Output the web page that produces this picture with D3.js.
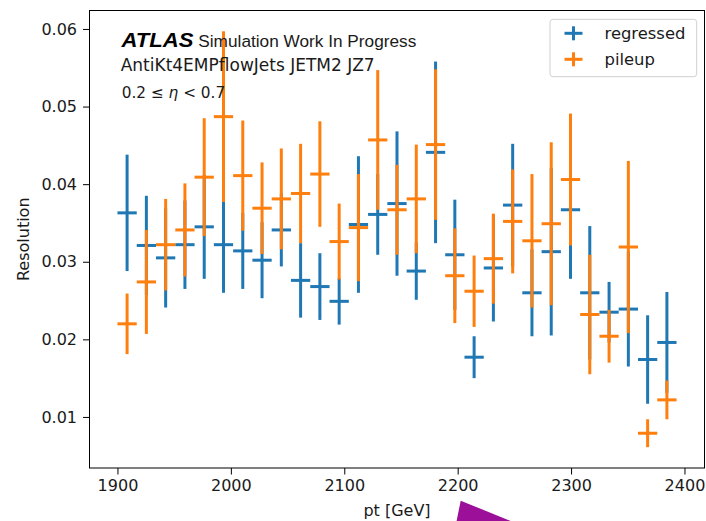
<!DOCTYPE html>
<html>
<head>
<meta charset="utf-8">
<script src="https://cdn.jsdelivr.net/npm/d3@7"></script>
<style>
  body { margin: 0; background: #fff; }
  svg { display: block; }
</style>
</head>
<body>
<svg id="chart" width="706" height="521"></svg>
<script>
// Bin centres (pt, GeV) and half bin width
const ptCenters = [1908.5, 1925.5, 1942.5, 1959.5, 1976.5, 1993.5, 2010.5, 2027.5, 2044.5, 2061.5,
  2078.5, 2095.5, 2112.5, 2129.5, 2146.5, 2163.5, 2180.5, 2197.5, 2214.5, 2231.5,
  2248.5, 2265.5, 2282.5, 2299.5, 2316.5, 2333.5, 2350.5, 2367.5, 2384.5];
const binHalfWidth = 8.5;

// Resolution values
const regressed = [0.0363, 0.0321, 0.0305, 0.0322, 0.0345, 0.0322, 0.0314, 0.0302, 0.0341, 0.0276,
  0.0268, 0.0249, 0.0348, 0.0361, 0.0375, 0.0288, 0.0441, 0.0309, 0.0177, 0.0292,
  0.0373, 0.0260, 0.0313, 0.0367, 0.0260, 0.0235, 0.0239, 0.0174, 0.0196];
const regressedErr = [0.0075, 0.0064, 0.0064, 0.0057, 0.0067, 0.0062, 0.0049, 0.0049, 0.0047, 0.0048,
  0.0043, 0.0030, 0.0088, 0.0052, 0.0093, 0.0037, 0.0117, 0.0071, 0.0027, 0.0069,
  0.0079, 0.0056, 0.0108, 0.0089, 0.0086, 0.0039, 0.0074, 0.0057, 0.0065];
const pileup = [0.0220, 0.0274, 0.0322, 0.0341, 0.0409, 0.0487, 0.0411, 0.0369, 0.0381, 0.0388,
  0.0413, 0.0326, 0.0344, 0.0457, 0.0367, 0.0381, 0.0451, 0.0282, 0.0262, 0.0304,
  0.0352, 0.0327, 0.0349, 0.0406, 0.0232, 0.0204, 0.0319, 0.0079, 0.0122];
const pileupErr = [0.0039, 0.0067, 0.0059, 0.0060, 0.0076, 0.0110, 0.0071, 0.0059, 0.0065, 0.0064,
  0.0068, 0.0049, 0.0069, 0.0090, 0.0058, 0.0070, 0.0097, 0.0061, 0.0046, 0.0058,
  0.0067, 0.0086, 0.0105, 0.0085, 0.0077, 0.0034, 0.0111, 0.0018, 0.0025];

const seriesNames = ["regressed", "pileup"];
const seriesColors = ["#1f77b4", "#ff7f0e"];
const xTicks = [1900, 2000, 2100, 2200, 2300, 2400];
const yTicks = [0.01, 0.02, 0.03, 0.04, 0.05, 0.06];

// Plot area
const plotLeft = 89.5, plotRight = 704.5, plotTop = 10.5, plotBottom = 468;

const series = [
  { name: seriesNames[0], color: seriesColors[0], values: regressed, errs: regressedErr },
  { name: seriesNames[1], color: seriesColors[1], values: pileup, errs: pileupErr },
];

// Domains with 5% margin like matplotlib
const xLo = d3.min(ptCenters) - binHalfWidth;
const xHi = d3.max(ptCenters) + binHalfWidth;
const xPad = (xHi - xLo) * 0.05;
const yLo = d3.min(series, (s) => d3.min(s.values, (v, i) => v - s.errs[i]));
const yHi = d3.max(series, (s) => d3.max(s.values, (v, i) => v + s.errs[i]));
const yPad = (yHi - yLo) * 0.05;

const xScale = d3.scaleLinear().domain([xLo - xPad, xHi + xPad]).range([plotLeft, plotRight]);
const yScale = d3.scaleLinear().domain([yLo - yPad, yHi + yPad]).range([plotBottom, plotTop]);

const svg = d3.select("#chart");
const textColor = "#1a1a1a";

// Axes
const xAxis = svg.append("g")
  .attr("transform", `translate(0,${plotBottom})`)
  .call(d3.axisBottom(xScale).tickValues(xTicks).tickFormat(d3.format("d"))
    .tickSize(6.5).tickPadding(5.5).tickSizeOuter(0));
const yAxis = svg.append("g")
  .attr("transform", `translate(${plotLeft},0)`)
  .call(d3.axisLeft(yScale).tickValues(yTicks).tickFormat(d3.format(".2f"))
    .tickSize(6.5).tickPadding(6).tickSizeOuter(0));

[xAxis, yAxis].forEach((g) => {
  g.select(".domain").remove();
  g.selectAll("line").attr("stroke", "#000").attr("stroke-width", 1);
  g.selectAll("text")
    .attr("font-family", "DejaVu Sans")
    .attr("font-size", 16)
    .attr("fill", textColor);
});

// Error bars, one group per series
const groups = svg.selectAll("g.series")
  .data(series)
  .join("g")
  .attr("class", "series")
  .attr("stroke", (d) => d.color)
  .attr("stroke-width", 3);

groups.selectAll("line.yerr")
  .data((s) => s.values.map((v, i) => ({ x: ptCenters[i], y: v, e: s.errs[i] })))
  .join("line")
  .attr("class", "yerr")
  .attr("x1", (d) => xScale(d.x))
  .attr("x2", (d) => xScale(d.x))
  .attr("y1", (d) => yScale(d.y - d.e))
  .attr("y2", (d) => yScale(d.y + d.e));

groups.selectAll("line.xerr")
  .data((s) => s.values.map((v, i) => ({ x: ptCenters[i], y: v })))
  .join("line")
  .attr("class", "xerr")
  .attr("x1", (d) => xScale(d.x - binHalfWidth))
  .attr("x2", (d) => xScale(d.x + binHalfWidth))
  .attr("y1", (d) => yScale(d.y))
  .attr("y2", (d) => yScale(d.y));

// Frame
svg.append("rect")
  .attr("x", plotLeft).attr("y", plotTop)
  .attr("width", plotRight - plotLeft).attr("height", plotBottom - plotTop)
  .attr("fill", "none").attr("stroke", "#000").attr("stroke-width", 1);

// Axis labels
svg.append("text")
  .attr("x", (plotLeft + plotRight) / 2).attr("y", 516)
  .attr("text-anchor", "middle")
  .attr("font-family", "DejaVu Sans").attr("font-size", 16).attr("fill", textColor)
  .text("pt [GeV]");
svg.append("text")
  .attr("transform", `translate(28.5,${(plotTop + plotBottom) / 2}) rotate(-90)`)
  .attr("text-anchor", "middle")
  .attr("font-family", "DejaVu Sans").attr("font-size", 16).attr("fill", textColor)
  .text("Resolution");

// ATLAS label
svg.append("text")
  .attr("x", 121.5).attr("y", 47)
  .attr("font-family", "Liberation Sans").attr("font-weight", "bold").attr("font-style", "italic")
  .attr("font-size", 19.5).attr("textLength", 72).attr("lengthAdjust", "spacingAndGlyphs")
  .attr("fill", "#000")
  .text("ATLAS");
svg.append("text")
  .attr("x", 198.3).attr("y", 47.3)
  .attr("font-family", "Liberation Sans").attr("font-size", 17.2)
  .attr("textLength", 218).attr("lengthAdjust", "spacingAndGlyphs")
  .attr("fill", textColor)
  .text("Simulation Work In Progress");
svg.append("text")
  .attr("x", 120.7).attr("y", 70.7)
  .attr("font-family", "DejaVu Sans").attr("font-size", 16.8)
  .attr("textLength", 254).attr("lengthAdjust", "spacingAndGlyphs")
  .attr("fill", textColor)
  .text("AntiKt4EMPflowJets JETM2 JZ7");
const etaText = svg.append("text")
  .attr("x", 121.7).attr("y", 98.3)
  .attr("font-family", "DejaVu Sans").attr("font-size", 15.3)
  .attr("fill", textColor);
etaText.append("tspan").text("0.2 \u2264 ");
etaText.append("tspan").attr("font-style", "italic").text("\u03b7");
etaText.append("tspan").text(" < 0.7");

// Legend
const legend = svg.append("g");
legend.append("rect")
  .attr("x", 550).attr("y", 19.3).attr("width", 146.7).attr("height", 57.4)
  .attr("rx", 3).attr("fill", "#fff").attr("fill-opacity", 0.8)
  .attr("stroke", "#d0d0d0").attr("stroke-width", 1);
const items = legend.selectAll("g.item")
  .data(series)
  .join("g")
  .attr("class", "item")
  .attr("transform", (d, i) => `translate(573.5,${33.3 + i * 26})`);
items.append("line")
  .attr("x1", -9).attr("x2", 9).attr("y1", 0).attr("y2", 0)
  .attr("stroke", (d) => d.color).attr("stroke-width", 3);
items.append("line")
  .attr("x1", 0).attr("x2", 0).attr("y1", -7).attr("y2", 7)
  .attr("stroke", (d) => d.color).attr("stroke-width", 3);
items.append("text")
  .attr("x", 31).attr("y", 5.3)
  .attr("font-family", "DejaVu Sans").attr("font-size", 16.4).attr("fill", textColor)
  .text((d) => d.name);

// Purple pointer mark at the bottom edge
svg.append("path")
  .attr("d", "M460.7,500.7 L512,521.5 L456.5,521.5 Z")
  .attr("fill", "#9c0f99");
</script>
</body>
</html>
